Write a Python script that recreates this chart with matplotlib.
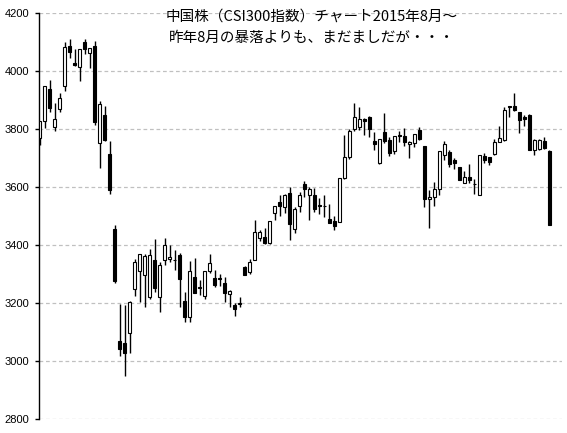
import numpy as np
import matplotlib
matplotlib.use("Agg")
from matplotlib import pyplot as plt

# CSI300 daily candles, Aug 2015 onwards
opens = [3769, 3830, 3939, 3807, 3869, 3950, 4086, 4029, 4014, 4100,
         4062, 4086, 3752, 3849, 3714, 3455, 3070, 3062, 3096, 3248,
         3310, 3299, 3223, 3349, 3223, 3348, 3352, 3350, 3368, 3208,
         3152, 3290, 3257, 3226, 3311, 3286, 3286, 3269, 3232, 3194,
         3199, 3324, 3307, 3349, 3426, 3430, 3407, 3510, 3548, 3531,
         3579, 3455, 3537, 3613, 3572, 3575, 3540, 3536, 3490, 3483,
         3482, 3631, 3703, 3800, 3809, 3835, 3841, 3760, 3685, 3791,
         3763, 3726, 3780, 3776, 3749, 3752, 3798, 3742, 3558, 3566,
         3593, 3711, 3721, 3694, 3669, 3614, 3636, 3612, 3574, 3707,
         3705, 3715, 3757, 3763, 3880, 3880, 3860, 3841, 3849, 3729,
         3731, 3761, 3726]
highs = [3830, 3950, 3970, 3890, 3926, 4100, 4111, 4076, 4078, 4112,
         4080, 4104, 3898, 3880, 3759, 3469, 3198, 3194, 3207, 3353,
         3369, 3370, 3387, 3422, 3341, 3424, 3401, 3385, 3372, 3238,
         3346, 3355, 3280, 3312, 3370, 3315, 3301, 3290, 3246, 3202,
         3223, 3330, 3352, 3487, 3453, 3458, 3485, 3537, 3573, 3576,
         3600, 3533, 3584, 3623, 3602, 3596, 3562, 3573, 3542, 3502,
         3632, 3780, 3800, 3892, 3876, 3840, 3846, 3792, 3768, 3857,
         3775, 3778, 3794, 3803, 3758, 3785, 3809, 3743, 3589, 3617,
         3726, 3761, 3728, 3702, 3670, 3656, 3680, 3627, 3711, 3717,
         3706, 3768, 3811, 3878, 3881, 3926, 3861, 3849, 3852, 3766,
         3766, 3775, 3728]
lows = [3746, 3803, 3861, 3795, 3859, 3933, 4045, 4018, 3968, 4059,
        4012, 3816, 3667, 3761, 3578, 3269, 3019, 2950, 3027, 3226,
        3206, 3188, 3214, 3240, 3171, 3332, 3343, 3315, 3188, 3134,
        3134, 3236, 3228, 3214, 3303, 3255, 3260, 3203, 3188, 3157,
        3188, 3296, 3301, 3348, 3416, 3403, 3406, 3487, 3502, 3512,
        3418, 3443, 3516, 3565, 3487, 3516, 3508, 3499, 3477, 3453,
        3481, 3630, 3697, 3795, 3798, 3780, 3775, 3729, 3681, 3752,
        3709, 3715, 3757, 3742, 3702, 3738, 3763, 3533, 3458, 3537,
        3573, 3694, 3669, 3662, 3624, 3614, 3616, 3577, 3573, 3683,
        3677, 3711, 3756, 3761, 3843, 3864, 3788, 3811, 3729, 3711,
        3730, 3731, 3469]
closes = [3830, 3948, 3872, 3834, 3907, 4085, 4068, 4020, 4077, 4078,
          4079, 3826, 3886, 3763, 3591, 3277, 3043, 3030, 3204, 3342,
          3369, 3362, 3366, 3254, 3331, 3400, 3359, 3349, 3283, 3154,
          3310, 3237, 3254, 3311, 3340, 3263, 3283, 3234, 3243, 3180,
          3201, 3298, 3343, 3447, 3445, 3407, 3484, 3535, 3537, 3575,
          3475, 3524, 3572, 3593, 3593, 3526, 3537, 3535, 3478, 3468,
          3631, 3705, 3794, 3841, 3834, 3830, 3800, 3749, 3765, 3761,
          3719, 3776, 3778, 3757, 3756, 3783, 3766, 3558, 3566, 3593,
          3724, 3749, 3682, 3685, 3625, 3636, 3625, 3610, 3710, 3694,
          3688, 3756, 3769, 3866, 3876, 3867, 3832, 3837, 3730, 3762,
          3764, 3735, 3470]
yticks = [2800, 3000, 3200, 3400, 3600, 3800, 4000, 4200]
title_lines = ["中国株（CSI300指数）チャート2015年8月～",
               "昨年8月の暴落よりも、まだましだが・・・"]

o = np.array(opens)
h = np.array(highs)
l = np.array(lows)
c = np.array(closes)
x = np.arange(1, len(o) + 1)

fig = plt.figure(figsize=(5.67, 4.33), dpi=100)
ax = fig.add_axes([39 / 567, 13.7 / 433, 523 / 567, 406 / 433])

ax.vlines(x, l, h, color="black", lw=1.0, zorder=2)
up = c >= o
bottom = np.minimum(o, c)
height = np.maximum(np.abs(c - o), 0.5)
ax.bar(x, height, bottom=bottom, width=0.6,
       color=np.where(up, "white", "black"), edgecolor="black",
       linewidth=0.8, zorder=3)

ax.set_xlim(0.8, len(o) + 2.6)
ax.set_ylim(2800, 4200)
ax.set_yticks(yticks)
ax.set_xticks([])
ax.yaxis.grid(True, color="#c0c0c0", lw=0.9, dashes=(3, 2.2))
ax.set_axisbelow(True)
for s in ["top", "right", "bottom"]:
    ax.spines[s].set_visible(False)
ax.spines["left"].set_linewidth(1.0)
ax.tick_params(axis="y", length=3, width=1.0, pad=4, labelsize=8)
for lab in ax.get_yticklabels():
    lab.set_family(["Liberation Sans", "DejaVu Sans"])

fig.text(312 / 567, 1 - 17 / 433, title_lines[0], ha="center", va="center",
         fontsize=10.5, family=["Noto Sans CJK JP", "DejaVu Sans"])
fig.text(312 / 567, 1 - 38 / 433, title_lines[1], ha="center", va="center",
         fontsize=10.5, family=["Noto Sans CJK JP", "DejaVu Sans"])

fig.savefig("out.png", dpi=100)
